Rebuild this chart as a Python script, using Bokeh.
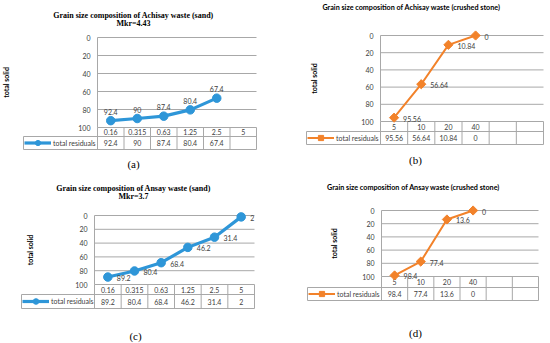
import math
from bokeh.plotting import figure
from bokeh.models import Range1d, FixedTicker, Label, Legend, LegendItem
from bokeh.layouts import column, row
from bokeh.core.properties import value
from bokeh.embed import file_html
from bokeh.resources import INLINE

# ---------------- data ----------------
SAND_SIZES = ["0.16", "0.315", "0.63", "1.25", "2.5", "5"]
STONE_SIZES = ["5", "10", "20", "40", "", ""]
ACHISAY_SAND = [92.4, 90, 87.4, 80.4, 67.4]
ACHISAY_STONE = [95.56, 56.64, 10.84, 0]
ANSAY_SAND = [89.2, 80.4, 68.4, 46.2, 31.4, 2]
ANSAY_STONE = [98.4, 77.4, 13.6, 0]
Y_TICKS = [0, 20, 40, 60, 80, 100]
SERIES_NAME = "total residuals"
AXIS_TITLE = "total solid"
TITLE_A = ["Grain size composition of Achisay waste (sand)", "Mkr=4.43"]
TITLE_B = ["Grain size composition of Achisay waste (crushed stone)"]
TITLE_C = ["Grain size composition of Ansay waste (sand)", "Mkr=3.7"]
TITLE_D = ["Grain size composition of Ansay waste (crushed stone)"]
LETTERS = ["(a)", "(b)", "(c)", "(d)"]

# ---------------- style / layout ----------------
BLUE = "#2E96D8"
ORANGE = "#F2822A"
GRID = "#A8A8A8"
TXT = "#404040"
REF_W = 275.0
SANS = "Lato"
SERIF = "Liberation Serif"

# layout of each panel in reference pixels (local)
LAY = {
    "a": dict(L=97, R=256, T=37, B=127, r1=136, r2=149, leg=23, ty=[15, 23], tx=133, lx=133, ly=163, atx=9),
    "b": dict(L=105, R=268, T=35, B=121, r1=131, r2=144, leg=31, ty=[7], tx=136, lx=140, ly=159, atx=42),
    "c": dict(L=94, R=254, T=43, B=112, r1=122, r2=136, leg=21, ty=[16, 24], tx=133, lx=135, ly=163, atx=33),
    "d": dict(L=106, R=263, T=38, B=104, r1=115, r2=128, leg=32, ty=[15], tx=138, lx=140, ly=160, atx=62),
}


def make_panel(key, sizes, vals, color, marker, title, serif_title, letter, w, h, lbl):
    s = LAY[key]
    L, R, T, B, r1, r2, leg = s["L"], s["R"], s["T"], s["B"], s["r1"], s["r2"], s["leg"]
    ref_h = float(h)
    ncol = len(sizes)
    colw = (R - L) / ncol
    ppu = (B - T) / 100.0
    sx, sy = w / REF_W, 1.0
    p = figure(width=w, height=h,
               x_range=Range1d(-0.5 - L / colw, -0.5 + (REF_W - L) / colw),
               y_range=Range1d((ref_h - T) / ppu, -T / ppu),
               output_backend="svg", toolbar_location=None, min_border=0)
    p.outline_line_color = None
    p.background_fill_color = "white"
    p.border_fill_color = "white"
    p.xaxis.visible = False
    p.grid.visible = False

    xl, xr = -0.5, ncol - 0.5
    xleg = -0.5 - (L - leg) / colw
    yr1 = 100 + (r1 - B) / ppu
    yr2 = 100 + (r2 - B) / ppu

    # y axis at chart's left edge
    ax = p.yaxis[0]
    ax.fixed_location = xl
    ax.ticker = FixedTicker(ticks=Y_TICKS)
    ax.bounds = (Y_TICKS[0], Y_TICKS[-1])
    ax.axis_line_color = GRID
    ax.major_tick_line_color = None
    ax.minor_tick_line_color = None
    ax.major_tick_out = 0
    ax.major_tick_in = 0
    ax.major_label_standoff = 7
    ax.major_label_text_font = SANS
    ax.major_label_text_font_size = "7px"
    ax.major_label_text_color = TXT
    ax.axis_label = AXIS_TITLE
    ax.axis_label_text_font = SANS
    ax.axis_label_text_font_style = "bold"
    ax.axis_label_text_font_size = "7px"
    ax.axis_label_text_color = "#000000"
    ax.axis_label_standoff = int(round((L - s["atx"]) * sx - 4 - 19))

    # gridlines
    gl = Y_TICKS[:-1]
    p.segment(x0=[xl] * len(gl), x1=[xr] * len(gl), y0=gl, y1=gl, line_color=GRID, line_width=1)

    # table lines
    p.segment(x0=[xl, xleg, xleg], x1=[xr, xr, xr], y0=[100, yr1, yr2], y1=[100, yr1, yr2],
              line_color=GRID, line_width=1)
    vx = [xl + k for k in range(ncol + 1)]
    p.segment(x0=vx, x1=vx, y0=[100] * len(vx), y1=[yr2] * len(vx), line_color=GRID, line_width=1)
    p.segment(x0=[xleg], x1=[xleg], y0=[yr1], y1=[yr2], line_color=GRID, line_width=1)

    # table text
    xs = list(range(ncol))
    p.text(x=xs, y=[(100 + yr1) / 2] * ncol, text=sizes, text_align="center", text_baseline="middle",
           text_font=value(SANS), text_font_size="7px", text_color=TXT)
    vtxt = [f"{v:g}" for v in vals]
    p.text(x=xs[:len(vals)], y=[(yr1 + yr2) / 2] * len(vals), text=vtxt, text_align="center",
           text_baseline="middle", text_font=value(SANS), text_font_size="7px", text_color=TXT)

    # series
    px = xs[:len(vals)]
    if marker == "circle":
        lr = p.line(px, vals, line_color=color, line_width=3.2)
        mr = p.scatter(px, vals, marker="circle", size=8.5, fill_color=color, line_color=color)
    else:
        lr = p.line(px, vals, line_color=color, line_width=2)
        mr = p.scatter(px, vals, marker="square", angle=math.pi / 4, size=6.5, fill_color=color,
                       line_color=color)

    # data labels
    if lbl == "above":
        p.text(x=px, y=vals, text=vtxt, text_align="center", text_baseline="bottom", y_offset=-6,
               text_font=value(SANS), text_font_size="7px", text_color=TXT)
    else:
        p.text(x=px, y=vals, text=vtxt, text_align="left", text_baseline="middle", x_offset=9, y_offset=1,
               text_font=value(SANS), text_font_size="7px", text_color=TXT)

    # legend in table
    gh = int(round((r2 - r1) * sy))
    legend = Legend(items=[LegendItem(label=SERIES_NAME, renderers=[lr, mr])],
                    location=(leg * sx + 1, (ref_h - r2) * sy),
                    glyph_width=int(round(27 * sx)), glyph_height=gh, label_height=gh,
                    padding=0, margin=0, spacing=0, label_standoff=2,
                    label_text_font=SANS, label_text_font_size="7px", label_text_color=TXT,
                    border_line_color=None, background_fill_alpha=0)
    p.add_layout(legend)

    # titles
    for t, ty in zip(title, s["ty"]):
        p.add_layout(Label(x=s["tx"] * sx, y=(ref_h - ty) * sy, x_units="screen", y_units="screen", text=t,
                           text_align="center", text_baseline="middle",
                           text_font=SERIF if serif_title else SANS, text_font_style="bold",
                           text_font_size="8px" if serif_title else "7.2px", text_color="#000000"))
    p.add_layout(Label(x=s["lx"] * sx, y=(ref_h - s["ly"]) * sy, x_units="screen", y_units="screen",
                       text=letter, text_align="center", text_baseline="middle", text_font=SERIF,
                       text_font_size="11px", text_color="#000000"))
    return p


pa = make_panel("a", SAND_SIZES, ACHISAY_SAND, BLUE, "circle", TITLE_A, True, LETTERS[0], 275, 172, "above")
pb = make_panel("b", STONE_SIZES, ACHISAY_STONE, ORANGE, "diamond", TITLE_B, False, LETTERS[1], 275, 172, "right")
pc = make_panel("c", SAND_SIZES, ANSAY_SAND, BLUE, "circle", TITLE_C, True, LETTERS[2], 275, 171, "right")
pd = make_panel("d", STONE_SIZES, ANSAY_STONE, ORANGE, "diamond", TITLE_D, False, LETTERS[3], 275, 171, "right")

layout = column(row(pa, pb), row(pc, pd))
open("out.html", "w").write(file_html(layout, INLINE))
